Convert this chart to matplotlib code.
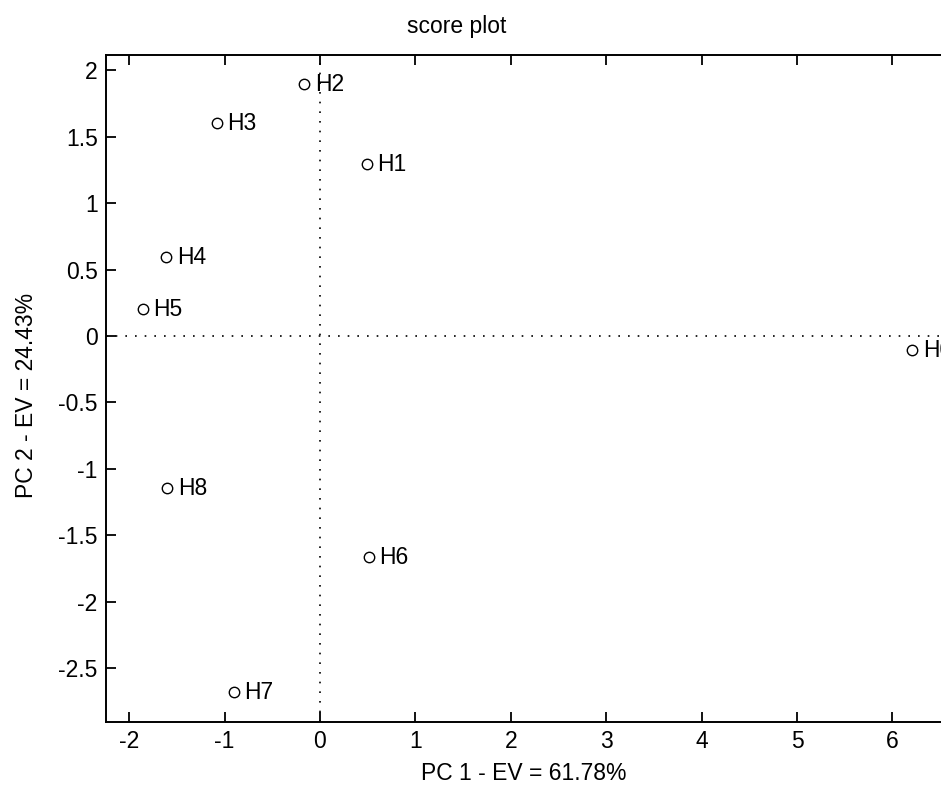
import matplotlib
matplotlib.use("Agg")
import matplotlib.pyplot as plt
from matplotlib.ticker import FixedLocator

labels = ["H0", "H1", "H2", "H3", "H4", "H5", "H6", "H7", "H8"]
pc1 = [6.21, 0.49, -0.165, -1.08, -1.61, -1.86, 0.51, -0.90, -1.60]
pc2 = [-0.105, 1.295, 1.898, 1.602, 0.593, 0.203, -1.662, -2.678, -1.141]
xticks = [-2, -1, 0, 1, 2, 3, 4, 5, 6]
yticks = [-2.5, -2, -1.5, -1, -0.5, 0, 0.5, 1, 1.5, 2]
title = "score plot"
xlabel = "PC 1 - EV = 61.78%"
ylabel = "PC 2 - EV = 24.43%"

plt.rcParams['font.family'] = ['Liberation Sans', 'DejaVu Sans']
W, H = 941, 788
fig = plt.figure(figsize=(W / 100, H / 100), dpi=100)
left, right, top, bottom = 106, 943, 55, 722
ax = fig.add_axes([left / W, 1 - bottom / H, (right - left) / W, (bottom - top) / H])
ax.set_xlim(-2.243, 6.53)
ax.set_ylim(-2.905, 2.115)

ax.axhline(0, color='black', lw=1.2, ls=(0, (1, 4.8)), zorder=1)
ax.axvline(0, color='black', lw=1.2, ls=(0, (1, 4.8)), zorder=1)

ax.plot(pc1, pc2, ls='none', marker='o', ms=7.5, mfc='none', mec='black', mew=1.0, zorder=3,
        clip_on=False)
for x, y, t in zip(pc1, pc2, labels):
    ax.annotate(t, (x, y), xytext=(7.5, -0.5), textcoords='offset points', ha='left', va='center',
                fontsize=16.5, color='black', annotation_clip=False)

ax.xaxis.set_major_locator(FixedLocator(xticks))
ax.yaxis.set_major_locator(FixedLocator(yticks))
ax.set_xticklabels([f"{v:g}" for v in xticks])
ax.set_yticklabels([f"{v:g}" for v in yticks])
ax.tick_params(direction='in', length=7, width=1.3, labelsize=16.5, top=True, right=False,
               pad=6)
for s in ['left', 'bottom', 'top']:
    ax.spines[s].set_linewidth(1.4)
ax.spines['right'].set_visible(False)

fig.text(457 / W, 1 - 27 / H, title, ha='center', va='center', fontsize=16.5)
fig.text(524 / W, 1 - 773 / H, xlabel, ha='center', va='center', fontsize=16.5)
fig.text(27 / W, 1 - 395 / H, ylabel, ha='center', va='center', rotation=90, fontsize=16.5)

fig.savefig("out.png", dpi=100)
